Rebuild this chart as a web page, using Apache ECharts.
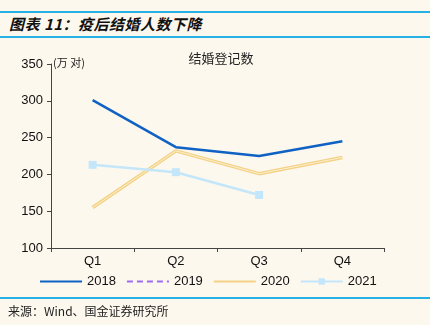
<!DOCTYPE html>
<html><head><meta charset="utf-8">
<script src="https://cdn.jsdelivr.net/npm/echarts@6/dist/echarts.min.js"></script>
<style>
html,body{margin:0;padding:0;background:#FDF8EE;}
#wrap{position:relative;width:430px;height:325px;background:#FDF8EE;overflow:hidden;}
#chart{position:absolute;left:0;top:0;width:430px;height:325px;}
.hl{position:absolute;left:0;width:430px;height:2px;background:#27B0E6;}
#title{position:absolute;left:9px;top:13px;font:italic bold 15px "Noto Sans CJK SC";color:#111;letter-spacing:0.5px;}
#src{position:absolute;left:8px;top:302px;font:12px "Noto Sans CJK SC";color:#222;}
</style></head>
<body><div id="wrap">
<div class="hl" style="top:11px"></div>
<div id="title">图表 11：疫后结婚人数下降</div>
<div class="hl" style="top:36px"></div>
<div id="chart"></div>
<div class="hl" style="top:297px"></div>
<div id="src">来源：Wind、国金证券研究所</div>
</div>
<script>
const categories = ['Q1','Q2','Q3','Q4'];
const s2018 = [301, 237, 225, 245];
const s2019 = [null, null, null, null];
const s2020 = [155, 232, 201, 223];
const s2021 = [213, 203, 172, null];
const yTicks = [100, 150, 200, 250, 300, 350];

const chart = echarts.init(document.getElementById('chart'), null, {renderer:'canvas'});
const fontF = '"Liberation Sans", Arial, sans-serif';
const noSym = {opacity: 0};
chart.setOption({
  backgroundColor: 'transparent',
  animation: false,
  title: {
    text: '结婚登记数', left: 216, top: 47, textAlign: 'center',
    textStyle: {fontFamily: '"Noto Sans CJK SC"', fontSize: 13, fontWeight: 'normal', color: '#222'}
  },
  grid: {left: 51, right: 46, top: 64, bottom: 77},
  legend: {
    bottom: 32, left: 34, itemGap: 10, itemWidth: 42, itemHeight: 8,
    textStyle: {fontFamily: fontF, fontSize: 13, color: '#111'},
    data: [
      {name: '2018', itemStyle: noSym},
      {name: '2019', itemStyle: noSym},
      {name: '2020', itemStyle: noSym},
      {name: '2021'}
    ]
  },
  xAxis: {
    type: 'category', data: categories, boundaryGap: true,
    axisLine: {lineStyle: {color: '#444', width: 1}},
    axisTick: {show: true, length: 4, lineStyle: {color: '#444'}},
    axisLabel: {fontFamily: fontF, fontSize: 13, color: '#111', margin: 7}
  },
  yAxis: {
    type: 'value', min: yTicks[0], max: yTicks[yTicks.length-1], interval: 50,
    name: '(万 对)', nameLocation: 'end', nameGap: -4,
    nameTextStyle: {fontFamily: '"Noto Sans CJK SC"', fontSize: 11, color: '#222', align: 'left', padding: [0,0,0,2]},
    splitLine: {show: false},
    axisLine: {show: true, lineStyle: {color: '#444', width: 1}},
    axisTick: {show: true, length: 4, lineStyle: {color: '#444'}},
    axisLabel: {fontFamily: fontF, fontSize: 13, color: '#111', margin: 8}
  },
  series: [
    {name: '2018', type: 'line', data: s2018, symbol: 'none', lineStyle: {color: '#0F62C4', width: 2.5}, itemStyle: {color: '#0F62C4'}},
    {name: '2019', type: 'line', data: s2019, symbol: 'none', lineStyle: {color: '#9F6CF0', width: 2.5, type: [6,4]}, itemStyle: {color: '#9F6CF0'}},
    {name: '2020', type: 'line', data: s2020, symbol: 'none', lineStyle: {color: '#F3D185', width: 3.5}, itemStyle: {color: '#F3D185'}},
    {name: '2020 core', type: 'line', data: s2020, symbol: 'none', silent: true, lineStyle: {color: '#FCF0CF', width: 1}, itemStyle: {color: '#FCF0CF'}},
    {name: '2021', type: 'line', data: s2021, symbol: 'rect', symbolSize: 8, lineStyle: {color: '#C4E6FA', width: 2.5}, itemStyle: {color: '#C4E6FA'}}
  ]
});
</script>
</body></html>
